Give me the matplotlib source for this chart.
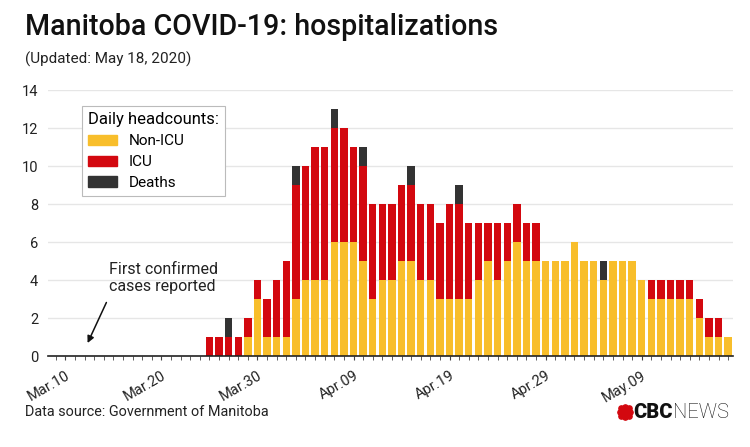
import matplotlib
matplotlib.use("Agg")
import matplotlib.pyplot as plt
import matplotlib.dates as mdates
import matplotlib.patches as mpatches
import numpy as np
import pandas as pd

plt.rcParams['font.family'] = ['Roboto', 'DejaVu Sans']

# daily headcounts, Mar 25 .. May 18, 2020
dates = pd.date_range("2020-03-25", "2020-05-18", freq="D")
non_icu = [0, 0, 0, 0, 1, 3, 1,
           1, 1, 3, 4, 4, 4, 6, 6, 6, 5, 3, 4, 4, 5, 5, 4, 4, 3, 3, 3, 3, 4, 5,
           4, 5, 6, 5, 5, 5, 5,
           5, 6, 5, 5, 4, 5, 5, 5, 4, 3, 3, 3, 3, 3, 2, 1, 1, 1]
icu = [1, 1, 1, 1, 1, 1, 2,
       3, 4, 6, 6, 7, 7, 6, 6, 5, 5, 5, 4, 4, 4, 4, 4, 4, 4, 5, 5, 4, 3, 2,
       3, 2, 2, 2, 2, 0, 0,
       0, 0, 0, 0, 0, 0, 0, 0, 0, 1, 1, 1, 1, 1, 1, 1, 1, 0]
deaths = [0, 0, 1, 0, 0, 0, 0,
          0, 0, 1, 0, 0, 0, 1, 0, 0, 1, 0, 0, 0, 0, 1, 0, 0, 0, 0, 1, 0, 0, 0,
          0, 0, 0, 0, 0, 0, 0,
          0, 0, 0, 0, 1, 0, 0, 0, 0, 0, 0, 0, 0, 0, 0, 0, 0, 0]
tick_dates = pd.date_range("2020-03-10", "2020-05-09", freq="10D")
first_case = pd.Timestamp("2020-03-12")

c_yellow = "#F8BE2B"
c_red = "#D3080F"
c_dark = "#333333"

fig = plt.figure(figsize=(7.5, 4.47), dpi=100)
ax = fig.add_axes([48/750, 1-356/447, (733-48)/750, (356-90)/447])

x = mdates.date2num(dates)
non_icu = np.array(non_icu)
icu = np.array(icu)
deaths = np.array(deaths)
w = 0.77
ax.bar(x, non_icu, width=w, color=c_yellow, zorder=3)
ax.bar(x, icu, width=w, bottom=non_icu, color=c_red, zorder=3)
ax.bar(x, deaths, width=w, bottom=non_icu + icu, color=c_dark, zorder=3)

ax.set_xlim(x[0] - 16.8, x[-1] + 0.5)
ax.set_ylim(0, 14)
ax.set_yticks(range(0, 15, 2))
ax.grid(axis="y", color="#e6e6e6", linewidth=1, zorder=0)
for s in ["top", "right", "left"]:
    ax.spines[s].set_visible(False)
ax.spines["bottom"].set_color("#222222")
ax.spines["bottom"].set_linewidth(1.2)
ax.spines["bottom"].set_zorder(4)

ax.set_xticks(mdates.date2num(tick_dates))
ax.set_xticklabels([d.strftime("%b.%d") for d in tick_dates],
                   rotation=30, ha="right", rotation_mode="anchor")
ax.xaxis.set_minor_locator(mdates.DayLocator())
ax.tick_params(axis="x", which="both", length=3, color="#444444",
               labelsize=10.5, labelcolor="#222222", pad=6)
ax.tick_params(axis="y", length=0, labelsize=10.5, labelcolor="#222222", pad=7)

# legend
handles = [mpatches.Patch(color=c_yellow, label="Non-ICU"),
           mpatches.Patch(color=c_red, label="ICU"),
           mpatches.Patch(color=c_dark, label="Deaths")]
leg = ax.legend(handles=handles, title="Daily headcounts:", loc="upper left",
                bbox_to_anchor=(0.038, 0.968), fontsize=11, title_fontsize=12,
                frameon=True, fancybox=False, edgecolor="#bbbbbb",
                framealpha=1, handlelength=1.9, handleheight=0.65,
                handletextpad=0.8, labelspacing=0.45, borderpad=0.4,
                alignment="left")
leg.get_frame().set_linewidth(0.8)
leg.set_zorder(5)

# annotation
ax.text(mdates.date2num(pd.Timestamp("2020-03-25")) - 10.5, 4.95,
        "First confirmed\ncases reported", ha="left", va="top",
        fontsize=11.5, color="#222222", linespacing=1.15)
ax.annotate("", xy=(mdates.date2num(first_case) + 0.2, 0.55),
            xytext=(mdates.date2num(first_case) + 2.4, 2.95),
            arrowprops=dict(arrowstyle="-|>", color="#111111", lw=1.1,
                            mutation_scale=10))

# titles
fig.text(25/750, 1-27/447, "Manitoba COVID-19: hospitalizations",
         fontsize=20.6, fontweight="medium", va="center", ha="left", color="#111111")
fig.text(25/750, 1-59/447, "(Updated: May 18, 2020)", fontsize=11,
         va="center", ha="left", color="#222222")
fig.text(25/750, 1-412/447, "Data source: Government of Manitoba", fontsize=10.4,
         va="center", ha="left", color="#222222")

# CBC logo
lx, ly = 625/750, 1-412/447
ang = np.linspace(0, 2*np.pi, 8, endpoint=False)
for r, s in [(0.0, 20), (5.2, 10)]:
    px = lx + r*np.cos(ang)/750
    py = ly + r*np.sin(ang)/447
    fig.add_artist(plt.Line2D(px, py, marker="o", linestyle="none",
                              color=c_red, markersize=s**0.5*1.2,
                              transform=fig.transFigure))
t1 = fig.text(633/750, ly, "CBC", fontsize=14.5, fontweight="black",
              va="center", ha="left", color="#111111")
fig.canvas.draw()
bb = t1.get_window_extent()
fig.text(bb.x1/750 + 0.001, ly, "NEWS", fontsize=14.5, fontweight="light",
         va="center", ha="left", color="#111111")

fig.savefig("out.png", dpi=100)
